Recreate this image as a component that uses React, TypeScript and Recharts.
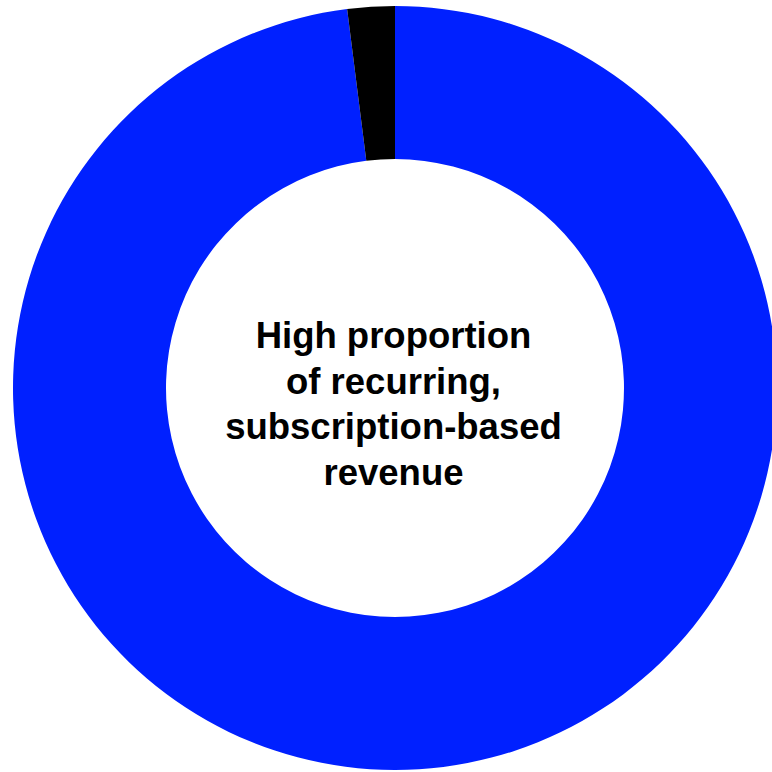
import { PieChart, Pie, Cell, Label } from "recharts";

const segments = ["Recurring", "Other"];
const shares = [98, 2];
const colors = ["#0020FF", "#000000"];
const centerLines = ["High proportion", "of recurring,", "subscription-based", "revenue"];

const data = segments.map((name, i) => ({ name, value: shares[i] }));

const CX = 395;
const CY = 388;

const CenterText = () => {
  const lineGap = 45.5;
  const firstBaseline = CY - 40;
  return (
    <text
      textAnchor="middle"
      fontFamily="'Liberation Sans', Arial, sans-serif"
      fontWeight="bold"
      fontSize={36.5}
      fill="#000"
    >
      {centerLines.map((line, i) => (
        <tspan key={line} x={CX - 1.5} y={firstBaseline + i * lineGap}>
          {line}
        </tspan>
      ))}
    </text>
  );
};

export default function App() {
  return (
    <div style={{ position: "absolute", left: 0, top: 0, width: 772, height: 772, background: "#fff" }}>
      <PieChart width={772} height={772} margin={{ top: 0, right: 0, bottom: 0, left: 0 }}>
        <Pie
          data={data}
          dataKey="value"
          cx={CX}
          cy={CY}
          innerRadius={229}
          outerRadius={382}
          startAngle={90}
          endAngle={-270}
          stroke="none"
          isAnimationActive={false}
        >
          {data.map((d, i) => (
            <Cell key={d.name} fill={colors[i]} />
          ))}
          <Label position="center" content={<CenterText />} />
        </Pie>
      </PieChart>
    </div>
  );
}
